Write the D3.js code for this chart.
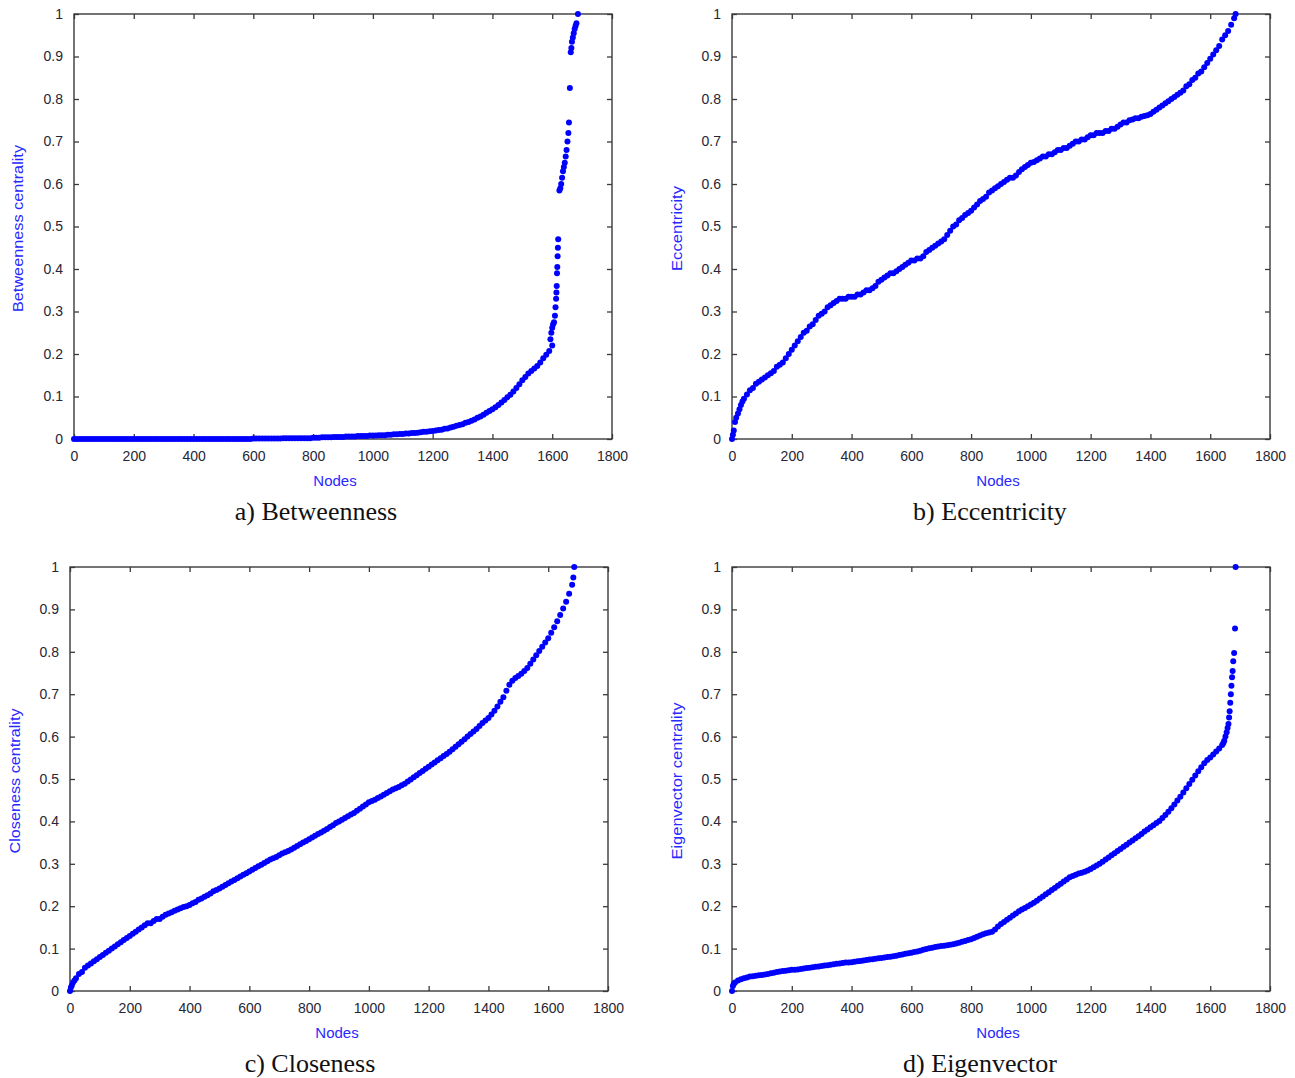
<!DOCTYPE html>
<html>
<head>
<meta charset="utf-8">
<script src="https://cdn.jsdelivr.net/npm/d3@7"></script>
<style>
  body { margin: 0; background: #fff; }
  svg { display: block; }
  .tick text { font-family: "Liberation Sans", Arial, sans-serif; font-size: 14px; fill: #262636; }
  .domain { display: none; }
  .tick line { stroke: #3a3a3a; stroke-width: 1.3; }
</style>
</head>
<body>
<div id="chart"></div>
<script>
// tick values
const xTicks = [0, 200, 400, 600, 800, 1000, 1200, 1400, 1600, 1800];
const yTicks = [0, 0.1, 0.2, 0.3, 0.4, 0.5, 0.6, 0.7, 0.8, 0.9, 1];

// values at every 10th node (node = index * 10),
// plus extra points where the curve gets steep

// a) Betweenness
const betweennessValues = [
  0,0,0,0,0,0,0,0,0,0, 0,0,0,0,0,0,0,0,0,0, 0,0,0,0,0,0,0,0,0,0,
  0,0,0,0,0,0,0,0,0,0, 0,0,0,0,0,0,0,0,0,0, 0,0,0,0,0,0,0,0,0,0,
  0.001,0.001,0.001,0.001,0.001,0.001,0.001,0.001,0.001,0.001,
  0.002,0.002,0.002,0.002,0.002,0.002,0.002,0.002,0.002,0.002,
  0.003,0.003,0.003,0.004,0.004,0.004,0.004,0.005,0.005,0.005,
  0.005,0.006,0.006,0.006,0.006,0.007,0.007,0.007,0.007,0.008,
  0.008,0.008,0.009,0.009,0.009,0.010,0.010,0.011,0.011,0.012,
  0.012,0.013,0.013,0.014,0.014,0.015,0.016,0.017,0.017,0.018,
  0.019,0.020,0.021,0.022,0.024,0.025,0.027,0.029,0.031,0.033,
  0.035,0.038,0.040,0.043,0.046,0.050,0.053,0.057,0.062,0.066,
  0.070,0.075,0.080,0.086,0.092,0.098,0.104,0.112,0.120,0.129,
  0.138,0.146,0.154,0.160,0.166,0.172,0.180,0.190,0.198,0.207,
  0.220
];
const betweennessExtraNodes  = [1594,1597,1600,1603,1606,1609,1611,1613,1614,1615,1616,1617,1618,1619,1620,1624,1627,1630,1633,1636,1639,1642,1645,1648,1651,1654,1656,1659,1662,1664,1666,1669,1672,1675,1678,1681,1686];
const betweennessExtraValues = [0.235,0.25,0.262,0.27,0.275,0.29,0.31,0.33,0.345,0.36,0.39,0.405,0.43,0.45,0.47,0.585,0.59,0.60,0.615,0.63,0.64,0.65,0.665,0.68,0.70,0.72,0.745,0.826,0.91,0.92,0.935,0.945,0.955,0.965,0.972,0.978,1.0];

// b) Eccentricity
const eccentricityValues = [
  0,0.04,0.06,0.08,0.095,0.105,0.115,0.12,0.13,0.135,
  0.14,0.145,0.15,0.155,0.16,0.17,0.175,0.18,0.19,0.20,
  0.21,0.22,0.23,0.24,0.25,0.255,0.265,0.27,0.28,0.29,
  0.295,0.30,0.31,0.315,0.32,0.325,0.33,0.33,0.33,0.335,
  0.335,0.335,0.34,0.34,0.345,0.35,0.35,0.355,0.36,0.37,
  0.375,0.38,0.385,0.39,0.39,0.395,0.40,0.405,0.41,0.415,
  0.42,0.42,0.425,0.425,0.43,0.44,0.445,0.45,0.455,0.46,
  0.465,0.47,0.48,0.49,0.50,0.505,0.515,0.52,0.527,0.532,
  0.537,0.545,0.552,0.56,0.565,0.57,0.58,0.585,0.59,0.595,
  0.60,0.605,0.61,0.615,0.615,0.62,0.628,0.635,0.64,0.645,
  0.65,0.652,0.656,0.66,0.665,0.665,0.67,0.67,0.675,0.68,
  0.68,0.685,0.685,0.69,0.695,0.70,0.70,0.705,0.705,0.71,
  0.715,0.715,0.72,0.72,0.72,0.725,0.725,0.73,0.73,0.735,
  0.74,0.745,0.745,0.75,0.752,0.755,0.755,0.758,0.76,0.762,
  0.765,0.77,0.775,0.78,0.785,0.79,0.795,0.80,0.805,0.81,
  0.815,0.82,0.83,0.835,0.845,0.85,0.86,0.865,0.875,0.885,
  0.895,0.905,0.915,0.925,0.94,0.95,0.96,0.975,0.99
];
const eccentricityExtraNodes  = [3,6,14,25,35,1685];
const eccentricityExtraValues = [0.01,0.02,0.05,0.07,0.088,1.0];

// c) Closeness
const closenessValues = [
  0,0.02,0.03,0.04,0.045,0.055,0.06,0.065,0.07,0.075,
  0.08,0.085,0.09,0.095,0.10,0.105,0.11,0.115,0.12,0.125,
  0.13,0.135,0.14,0.145,0.15,0.155,0.16,0.16,0.165,0.17,
  0.17,0.175,0.18,0.183,0.186,0.189,0.192,0.195,0.198,0.20,
  0.203,0.207,0.21,0.215,0.218,0.222,0.226,0.23,0.235,0.238,
  0.242,0.246,0.25,0.254,0.258,0.262,0.266,0.27,0.274,0.278,
  0.282,0.286,0.29,0.294,0.298,0.302,0.306,0.31,0.313,0.316,
  0.32,0.324,0.327,0.33,0.334,0.338,0.342,0.346,0.35,0.354,
  0.358,0.362,0.366,0.37,0.374,0.378,0.382,0.387,0.391,0.396,
  0.40,0.404,0.408,0.412,0.416,0.42,0.425,0.43,0.435,0.44,
  0.445,0.448,0.451,0.455,0.459,0.463,0.467,0.471,0.475,0.478,
  0.481,0.485,0.489,0.494,0.499,0.504,0.509,0.514,0.519,0.524,
  0.529,0.534,0.539,0.544,0.549,0.554,0.559,0.564,0.57,0.576,
  0.582,0.588,0.594,0.60,0.606,0.612,0.618,0.625,0.632,0.638,
  0.644,0.652,0.661,0.671,0.682,0.693,0.708,0.722,0.732,0.738,
  0.743,0.748,0.755,0.762,0.772,0.782,0.792,0.802,0.812,0.822,
  0.832,0.845,0.858,0.872,0.887,0.902,0.918,0.937,0.958
];
const closenessExtraNodes  = [3,6,15,1684,1687];
const closenessExtraValues = [0.008,0.013,0.025,0.975,1.0];

// d) Eigenvector
const eigenvectorValues = [
  0,0.02,0.025,0.028,0.03,0.032,0.034,0.035,0.036,0.037,
  0.038,0.039,0.04,0.042,0.043,0.045,0.046,0.047,0.048,0.049,
  0.05,0.05,0.051,0.052,0.053,0.054,0.055,0.056,0.057,0.058,
  0.059,0.06,0.061,0.062,0.063,0.064,0.065,0.066,0.067,0.067,
  0.068,0.069,0.07,0.071,0.072,0.073,0.074,0.075,0.076,0.077,
  0.078,0.079,0.08,0.081,0.082,0.083,0.085,0.086,0.088,0.089,
  0.09,0.092,0.093,0.095,0.097,0.099,0.101,0.102,0.104,0.105,
  0.106,0.107,0.108,0.109,0.11,0.112,0.114,0.116,0.118,0.12,
  0.122,0.125,0.128,0.131,0.134,0.136,0.138,0.14,0.145,0.152,
  0.158,0.163,0.168,0.173,0.178,0.183,0.188,0.192,0.196,0.20,
  0.204,0.208,0.213,0.218,0.223,0.228,0.233,0.238,0.243,0.248,
  0.253,0.258,0.263,0.268,0.271,0.274,0.277,0.279,0.281,0.284,
  0.288,0.292,0.296,0.30,0.305,0.31,0.315,0.32,0.325,0.33,
  0.335,0.34,0.345,0.35,0.355,0.36,0.365,0.37,0.376,0.381,
  0.386,0.391,0.396,0.401,0.408,0.415,0.423,0.431,0.44,0.449,
  0.458,0.468,0.478,0.488,0.498,0.508,0.518,0.528,0.537,0.545,
  0.551,0.558,0.565,0.572,0.58
];
const eigenvectorExtraNodes  = [3,6,1644,1647,1651,1655,1658,1661,1663,1665,1667,1669,1671,1673,1675,1677,1680,1683,1685];
const eigenvectorExtraValues = [0.012,0.017,0.585,0.59,0.60,0.61,0.62,0.63,0.645,0.66,0.68,0.70,0.72,0.74,0.755,0.778,0.797,0.855,1.0];

const nodeStep = 10;

const panels = [
  { values: betweennessValues,  extraNodes: betweennessExtraNodes,  extraValues: betweennessExtraValues,  left: 74,  top: 14,  h: 425, ylabel: "Betweenness centrality", ylx: 18,  ylen: 167, caption: "a) Betweenness",  cx: 316, nodesDx: -8 },
  { values: eccentricityValues, extraNodes: eccentricityExtraNodes, extraValues: eccentricityExtraValues, left: 732, top: 14,  h: 425, ylabel: "Eccentricity",           ylx: 677, ylen: 85,  caption: "b) Eccentricity", cx: 990, nodesDx: -3 },
  { values: closenessValues,    extraNodes: closenessExtraNodes,    extraValues: closenessExtraValues,    left: 70,  top: 567, h: 424, ylabel: "Closeness centrality",   ylx: 15,  ylen: 145, caption: "c) Closeness",    cx: 310, nodesDx: -2 },
  { values: eigenvectorValues,  extraNodes: eigenvectorExtraNodes,  extraValues: eigenvectorExtraValues,  left: 732, top: 567, h: 424, ylabel: "Eigenvector centrality", ylx: 677, ylen: 157, caption: "d) Eigenvector",  cx: 980, nodesDx: -3 }
];

const W = 1295, H = 1078;
const pw = 538;

const svg = d3.select("#chart").append("svg")
  .attr("width", W)
  .attr("height", H);

panels.forEach(p => {
  const ph = p.h;
  const x = d3.scaleLinear().domain([0, 1800]).range([0, pw]);
  const y = d3.scaleLinear().domain([0, 1]).range([ph, 0]);

  const g = svg.append("g").attr("transform", `translate(${p.left},${p.top})`);

  // axes with inward ticks on all four sides
  g.append("g")
      .attr("transform", `translate(0,${ph})`)
      .call(d3.axisBottom(x).tickValues(xTicks).tickSize(-5).tickPadding(12).tickFormat(d3.format("d")));
  g.append("g")
      .call(d3.axisTop(x).tickValues(xTicks).tickSize(-5).tickFormat(""));
  g.append("g")
      .call(d3.axisLeft(y).tickValues(yTicks).tickSize(-5).tickPadding(11).tickFormat(d => String(+d.toFixed(1))));
  g.append("g")
      .attr("transform", `translate(${pw},0)`)
      .call(d3.axisRight(y).tickValues(yTicks).tickSize(-5).tickFormat(""));

  g.append("rect")
    .attr("width", pw)
    .attr("height", ph)
    .attr("fill", "none")
    .attr("stroke", "#3a3a3a")
    .attr("stroke-width", 1.4);

  const pts = p.values.map((v, i) => [i * nodeStep, v])
    .concat(p.extraNodes.map((n, i) => [n, p.extraValues[i]]));

  g.selectAll("circle.pt")
    .data(pts)
    .enter().append("circle")
      .attr("class", "pt")
      .attr("cx", d => x(d[0]))
      .attr("cy", d => y(d[1]))
      .attr("r", 3)
      .attr("fill", "#0000ff");

  g.append("text")
    .attr("x", pw / 2 + p.nodesDx)
    .attr("y", ph + 47)
    .attr("text-anchor", "middle")
    .style("font-family", "Liberation Sans, Arial, sans-serif")
    .style("font-size", "15px")
    .attr("fill", "#2828ff")
    .text("Nodes");

  svg.append("text")
    .attr("transform", `translate(${p.ylx},${p.top + ph / 2 + 2}) rotate(-90)`)
    .attr("y", 5)
    .attr("text-anchor", "middle")
    .attr("textLength", p.ylen)
    .attr("lengthAdjust", "spacingAndGlyphs")
    .style("font-family", "Liberation Sans, Arial, sans-serif")
    .style("font-size", "14px")
    .attr("fill", "#2828ff")
    .text(p.ylabel);

  svg.append("text")
    .attr("x", p.cx)
    .attr("y", p.top + ph + 81)
    .attr("text-anchor", "middle")
    .style("font-family", "Liberation Serif, Times New Roman, serif")
    .style("font-size", "26px")
    .attr("fill", "#111")
    .text(p.caption);
});
</script>
</body>
</html>
